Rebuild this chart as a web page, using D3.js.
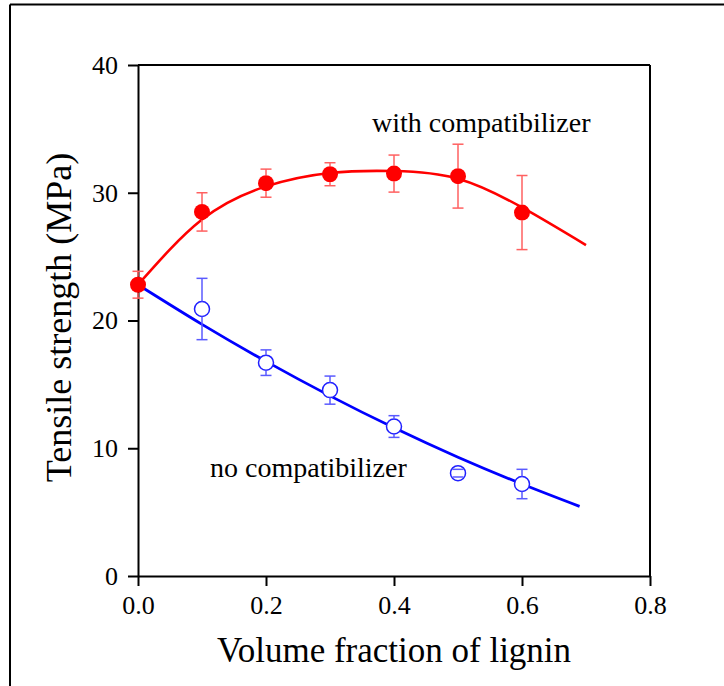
<!DOCTYPE html>
<html>
<head>
<meta charset="utf-8">
<script src="https://cdn.jsdelivr.net/npm/d3@7"></script>
<style>
  html, body { margin: 0; padding: 0; background: #fff; }
  svg { display: block; }
  text { font-family: "Liberation Serif", "Times New Roman", serif; fill: #000; }
</style>
</head>
<body>
<svg id="chart" width="724" height="686"></svg>
<script>
// ---- data ----
const fractions = [0.0, 0.1, 0.2, 0.3, 0.4, 0.5, 0.6];
const withComp = [22.8, 28.5, 30.75, 31.45, 31.5, 31.3, 28.45];
const withCompErr = [1.05, 1.5, 1.1, 0.9, 1.45, 2.5, 2.9];
const noCompX = [0.1, 0.2, 0.3, 0.4, 0.5, 0.6];
const noComp = [20.9, 16.7, 14.55, 11.7, 8.05, 7.2];
const noCompErr = [2.4, 1.0, 1.1, 0.85, 0.3, 1.15];
const withFitX = [0.0, 0.1, 0.2, 0.3, 0.4, 0.5, 0.6, 0.7];
const withFitY = [22.8, 27.9, 30.5, 31.55, 31.7, 31.1, 28.85, 25.9];
const noFitX = [0.0, 0.1, 0.2, 0.3, 0.4, 0.5, 0.6, 0.69];
const noFitY = [22.8, 19.7, 16.8, 14.1, 11.6, 9.3, 7.2, 5.45];
const xTicks = [0, 0.2, 0.4, 0.6, 0.8];
const yTicks = [0, 10, 20, 30, 40];
const xTitle = "Volume fraction of lignin";
const yTitle = "Tensile strength (MPa)";
const labelWith = "with compatibilizer";
const labelNo = "no compatibilizer";

// ---- layout ----
const svg = d3.select("#chart");
const x = d3.scaleLinear().domain([0, 0.8]).range([138, 650]);
const y = d3.scaleLinear().domain([0, 40]).range([576, 65]);

// outer frame (top & left)
svg.append("line").attr("x1", 10).attr("x2", 724).attr("y1", 4.5).attr("y2", 4.5)
  .attr("stroke", "#000").attr("stroke-width", 2);
svg.append("line").attr("x1", 10).attr("x2", 10).attr("y1", 4.5).attr("y2", 686)
  .attr("stroke", "#000").attr("stroke-width", 2);

// frame top/right of plot
svg.append("line").attr("x1", x(0)).attr("x2", x(0.8)).attr("y1", y(40)).attr("y2", y(40))
  .attr("stroke", "#000").attr("stroke-width", 2);
svg.append("line").attr("x1", x(0.8)).attr("x2", x(0.8)).attr("y1", y(40)).attr("y2", y(0))
  .attr("stroke", "#000").attr("stroke-width", 2);

// axes
const xAxis = svg.append("g").attr("transform", `translate(0,${y(0)})`)
  .call(d3.axisBottom(x).tickValues(xTicks).tickFormat(d3.format(".1f"))
    .tickSize(10).tickSizeOuter(0).tickPadding(10));
const yAxis = svg.append("g").attr("transform", `translate(${x(0)},0)`)
  .call(d3.axisLeft(y).tickValues(yTicks).tickFormat(d3.format("d"))
    .tickSize(10).tickSizeOuter(0).tickPadding(10));
[xAxis, yAxis].forEach(g => {
  g.select(".domain").attr("stroke", "#000").attr("stroke-width", 2);
  g.selectAll(".tick line").attr("stroke", "#000").attr("stroke-width", 2);
  g.selectAll(".tick text").style("font-family", "'Liberation Serif', serif")
    .style("font-size", "26px").attr("fill", "#000");
});

// titles
svg.append("text").attr("x", (x(0) + x(0.8)) / 2).attr("y", 662)
  .attr("text-anchor", "middle").style("font-size", "35px").text(xTitle);
svg.append("text").attr("transform", `translate(71,${(y(0) + y(40)) / 2 - 3}) rotate(-90)`)
  .attr("text-anchor", "middle").style("font-size", "36px").text(yTitle);

// fitted curves
const line = d3.line().x(d => x(d[0])).y(d => y(d[1])).curve(d3.curveNatural);
svg.append("path").datum(noFitX.map((v, i) => [v, noFitY[i]]))
  .attr("d", line).attr("fill", "none").attr("stroke", "#0000ff").attr("stroke-width", 2.8);
svg.append("path").datum(withFitX.map((v, i) => [v, withFitY[i]]))
  .attr("d", line).attr("fill", "none").attr("stroke", "#ff0000").attr("stroke-width", 2.6);

// markers
const rBlue = 7.5, rRed = 8;
svg.append("g").selectAll("circle").data(noCompX).join("circle")
  .attr("cx", d => x(d)).attr("cy", (d, i) => y(noComp[i])).attr("r", rBlue)
  .attr("fill", "#fff").attr("stroke", "#2020ff").attr("stroke-width", 1.5);

// error bars (vertical part only outside marker, caps always)
function errBars(xs, ys, es, color, r) {
  const g = svg.append("g").attr("stroke", color).attr("stroke-width", 1.5).attr("fill", "none");
  xs.forEach((xv, i) => {
    const cx = x(xv), cy = y(ys[i]), top = y(ys[i] + es[i]), bot = y(ys[i] - es[i]);
    if (cy - top > r) {
      g.append("line").attr("x1", cx).attr("x2", cx).attr("y1", top).attr("y2", cy - r);
      g.append("line").attr("x1", cx).attr("x2", cx).attr("y1", cy + r).attr("y2", bot);
    }
    g.append("line").attr("x1", cx - 5.5).attr("x2", cx + 5.5).attr("y1", top).attr("y2", top);
    g.append("line").attr("x1", cx - 5.5).attr("x2", cx + 5.5).attr("y1", bot).attr("y2", bot);
  });
}
errBars(noCompX, noComp, noCompErr, "#5a5aff", rBlue);
errBars(fractions, withComp, withCompErr, "#ff6060", rRed);

svg.append("g").selectAll("circle").data(fractions).join("circle")
  .attr("cx", d => x(d)).attr("cy", (d, i) => y(withComp[i])).attr("r", rRed)
  .attr("fill", "#ff0000");

// labels
svg.append("text").attr("x", 372).attr("y", 132).style("font-size", "28px").text(labelWith);
svg.append("text").attr("x", 210).attr("y", 477).style("font-size", "28px").text(labelNo);
</script>
</body>
</html>
